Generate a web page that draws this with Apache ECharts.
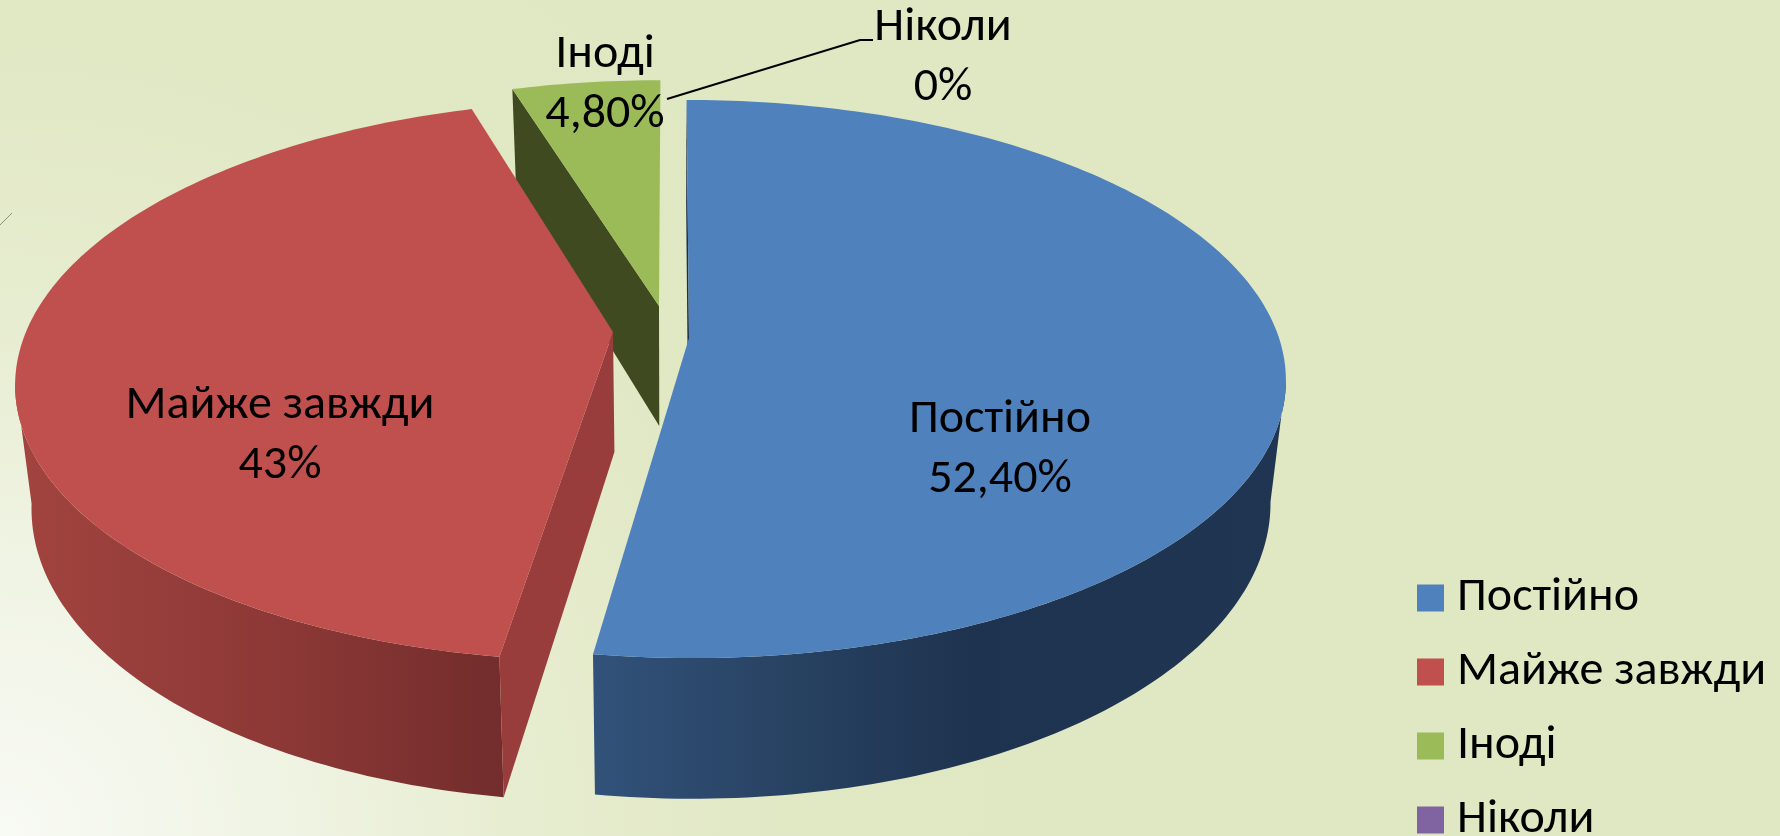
<!DOCTYPE html>
<html>
<head>
<meta charset="utf-8">
<title>Chart</title>
<style>
html,body{margin:0;padding:0;background:#e1e8c4;}
#echartsDiv{width:1780px;height:836px;}
</style>
<script src="https://cdn.jsdelivr.net/npm/echarts@6/dist/echarts.min.js"></script>
</head>
<body>
<div id="echartsDiv"></div>
<script>
var categories=['Постійно','Майже завжди','Іноді','Ніколи'];
var values=[52.4,43,4.8,0];
var valueLabels=['52,40%','43%','4,80%','0%'];

var colors=['#4f81bd','#c0504d','#9bbb59','#8064a2'];
var fontName='Carlito,Lato,"Open Sans",sans-serif';
var fontSize=48;

//slice geometry of the 3D view: apex on screen, vertical radius, perspective
var vanishX=670,radius=590,depth=120,depthK=0.147,baseShrink=0.975;
var placement=[
	{ax:689,ay:338,b:273,k:0.147,scale:1,labelX:1000,labelY:450},
	{ax:613,ay:332,b:272,k:0.173,scale:0.995,labelX:280,labelY:436},
	{ax:659,ay:306,b:259,k:0.147,scale:0.965,labelX:605,labelY:85},
	{ax:659,ay:306,b:259,k:0.147,scale:0.965,labelX:943,labelY:58}
];
var wallStops=[
	[[0,'#32527a'],[0.25,'#294465'],[0.55,'#1e334f'],[1,'#1f3552']],
	[[0,'#a2443f'],[0.55,'#8c3836'],[1,'#722d2c']],
	[[0,'#3f4a20'],[1,'#3f4a20']],
	[[0,'#4d3c62'],[1,'#4d3c62']]
];
var wallRange=[[590,1286],[16,503],[512,660],[512,660]];
var sideColors=['#1d3047','#993d3c','#3f4a20','#4d3c62'];
//order in which the slices are painted, back one first
var paintOrder=[2,3,1,0];

var total=0;
for(var i=0;i<values.length;i++){
	total+=values[i];
}
var startAngles=[];
var acc=0;
for(var i=0;i<values.length;i++){
	startAngles.push(acc/total*360);
	acc+=values[i];
}

//angle is clockwise from the back of the pie, lower=true gives the bottom rim
function project(p,angle,r,lower){
	var rad=angle*Math.PI/180;
	var X=Math.sin(rad)*r;
	var Y=-Math.cos(rad)*r;
	var s=1/(1-p.k*Y);
	var x=vanishX+(p.ax-vanishX+radius*p.scale*X)*s;
	var y=p.ay+p.b*Y*s;
	if(lower){
		x=vanishX+(x-vanishX)*baseShrink;
		y+=depth/(1-depthK*Y);
	}
	return [x,y];
}

function arcPoints(p,from,to,lower){
	var pts=[];
	var n=Math.max(2,Math.ceil(to-from));
	for(var j=0;j<=n;j++){
		pts.push(project(p,from+(to-from)*j/n,1,lower));
	}
	return pts;
}

function makeRenderItem(idx){
	return function(params,api){
		var p=placement[idx];
		var from=startAngles[idx];
		var to=from+api.value(0)/total*360;
		var children=[];
		if(to>from){
			var apex=project(p,0,0,false);
			var apexLow=project(p,0,0,true);
			var top=arcPoints(p,from,to,false);
			var low=arcPoints(p,from,to,true);
			//outer wall, only the front part between the side extremes of the rim
			var edge=Math.asin(p.k)*180/Math.PI;
			var wallFrom=Math.max(from,90+edge);
			var wallTo=Math.min(to,270-edge);
			if(wallTo>wallFrom){
				var wallTop=arcPoints(p,wallFrom,wallTo,false);
				var wallLow=arcPoints(p,wallFrom,wallTo,true);
				children.push({
					type:'polygon',
					shape:{points:wallTop.concat(wallLow.reverse())},
					style:{fill:{
						type:'linear',global:true,
						x:wallRange[idx][0],y:0,x2:wallRange[idx][1],y2:0,
						colorStops:wallStops[idx].map(function(c){return {offset:c[0],color:c[1]};})
					}}
				});
			}
			//cut wall
			children.push({
				type:'polygon',
				shape:{points:[apex,top[0],low[0],apexLow]},
				style:{fill:sideColors[idx]}
			});
			//top face
			children.push({
				type:'polygon',
				shape:{points:[apex].concat(top)},
				style:{fill:colors[idx]}
			});
		}
		return {type:'group',children:children};
	};
}

//labels go in their own series so no slice paints over them
function renderLabel(params,api){
	var idx=api.value(0);
	var p=placement[idx];
	return {
		type:'text',
		x:p.labelX,
		y:p.labelY,
		style:{
			text:categories[idx]+'\n'+valueLabels[idx],
			fill:'#000',
			font:fontSize+'px '+fontName,
			lineHeight:60,
			align:'center',
			verticalAlign:'middle'
		}
	};
}

var series=paintOrder.map(function(idx){
	return {
		name:categories[idx],
		type:'custom',
		coordinateSystem:'none',
		silent:true,
		itemStyle:{color:colors[idx]},
		renderItem:makeRenderItem(idx),
		encode:{value:0},
		data:[[values[idx]]]
	};
});
series.push({
	name:'labels',
	type:'custom',
	coordinateSystem:'none',
	silent:true,
	z:5,
	renderItem:renderLabel,
	data:categories.map(function(c,i){return [i];})
});

var myChart=echarts.init(document.getElementById('echartsDiv'));
var option={
	animation:false,
	backgroundColor:{
		type:'radial',global:true,x:0,y:836,r:1000,
		colorStops:[
			{offset:0,color:'#f8faf4'},
			{offset:0.3,color:'#eff3e2'},
			{offset:0.55,color:'#e6ecce'},
			{offset:0.8,color:'#e1e8c4'},
			{offset:1,color:'#e0e7c3'}
		]
	},
	legend:{
		data:categories,
		orient:'vertical',
		left:1417,
		top:574,
		height:320,
		padding:0,
		icon:'rect',
		itemWidth:27,
		itemHeight:27,
		itemGap:26,
		selectedMode:false,
		textStyle:{color:'#000',fontFamily:fontName,fontSize:fontSize,padding:[0,0,0,8]}
	},
	graphic:[
		{type:'line',shape:{x1:0,y1:225,x2:12,y2:213},style:{stroke:'#8a8f80',lineWidth:1},silent:true},
		//leader line of the zero slice
		{type:'polyline',shape:{points:[[667,99],[860,40],[873,40]]},style:{stroke:'#000',lineWidth:2,fill:null},silent:true}
	],
	series:series
};
myChart.setOption(option);
</script>
</body>
</html>
